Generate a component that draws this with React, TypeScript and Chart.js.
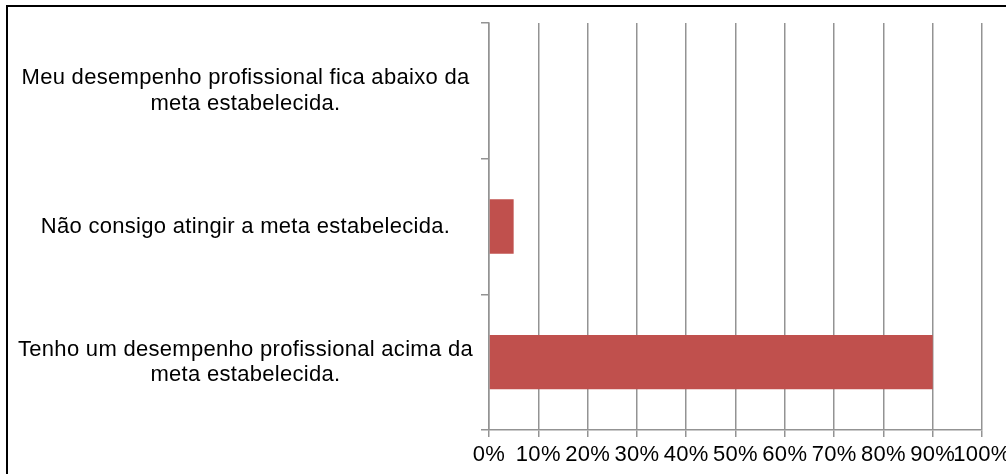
import React, { useEffect, useRef } from "react";
import { Chart, registerables } from "chart.js";

Chart.register(...registerables);

// ---- data ----
const categories: string[][] = [
  ["Meu desempenho profissional fica abaixo da", "meta estabelecida."],
  ["Não consigo atingir a meta estabelecida."],
  ["Tenho um desempenho profissional acima da", "meta estabelecida."],
];
const values: number[] = [0, 5, 90];
const xTickLabels: string[] = ["0%", "10%", "20%", "30%", "40%", "50%", "60%", "70%", "80%", "90%", "100%"];

const gridColor = "#939393";
const barColor = "#C0504D";
const fontFamily = "'Liberation Sans', Arial, sans-serif";

const letterSpacingPlugin = {
  id: "letterSpacing",
  beforeLayout(chart: any) {
    (chart.ctx as any).letterSpacing = "0.3px";
  },
  beforeDraw(chart: any) {
    (chart.ctx as any).letterSpacing = "0.3px";
  },
};

export default function App() {
  const canvasRef = useRef<HTMLCanvasElement | null>(null);

  useEffect(() => {
    const canvas = canvasRef.current;
    if (!canvas) return;
    const chart = new Chart(canvas, {
      type: "bar",
      data: {
        labels: categories,
        datasets: [
          {
            data: values,
            backgroundColor: barColor,
            borderWidth: 0,
            categoryPercentage: 1,
            barPercentage: 0.4,
          },
        ],
      },
      plugins: [letterSpacingPlugin],
      options: {
        indexAxis: "y",
        responsive: false,
        animation: false,
        devicePixelRatio: 1,
        layout: { padding: { top: 23, right: 24, left: 0, bottom: 0 } },
        plugins: {
          legend: { display: false },
          tooltip: { enabled: false },
          title: { display: false },
        },
        scales: {
          x: {
            type: "linear",
            min: 0,
            max: 100,
            ticks: {
              stepSize: 10,
              autoSkip: false,
              maxRotation: 0,
              padding: 5,
              color: "#000",
              font: { family: fontFamily, size: 22, lineHeight: 1.15 },
              callback: (_v: any, i: number) => xTickLabels[i],
            },
            grid: { color: gridColor, lineWidth: 1.5, tickLength: 7, drawTicks: true },
            border: { display: true, color: gridColor, width: 1.5 },
            afterFit: (s: any) => {
              s.height = 44;
              s.paddingLeft = 0;
              s.paddingRight = 0;
            },
          },
          y: {
            type: "category",
            offset: true,
            grid: {
              display: true,
              drawOnChartArea: false,
              drawTicks: true,
              tickLength: 8,
              color: gridColor,
              lineWidth: 1.5,
              offset: true,
            },
            border: { display: true, color: gridColor, width: 1.5 },
            ticks: {
              color: "#000",
              crossAlign: "center",
              padding: 8,
              autoSkip: false,
              font: { family: fontFamily, size: 22, lineHeight: 1.15 },
            },
            afterFit: (s: any) => {
              s.width = 489;
              s.paddingTop = 0;
              s.paddingBottom = 0;
            },
          },
        },
      },
    } as any);
    return () => chart.destroy();
  }, []);

  return (
    <div
      style={{
        position: "fixed",
        left: 0,
        top: 0,
        width: 1006,
        height: 474,
        overflow: "hidden",
        background: "#fff",
      }}
    >
      <div
        style={{
          position: "absolute",
          left: 6,
          top: 5,
          width: 1200,
          height: 700,
          border: "2px solid #000",
          boxSizing: "border-box",
        }}
      />
      <canvas
        ref={canvasRef}
        width={1006}
        height={474}
        style={{ position: "absolute", left: 0, top: 0, width: 1006, height: 474 }}
      />
    </div>
  );
}
